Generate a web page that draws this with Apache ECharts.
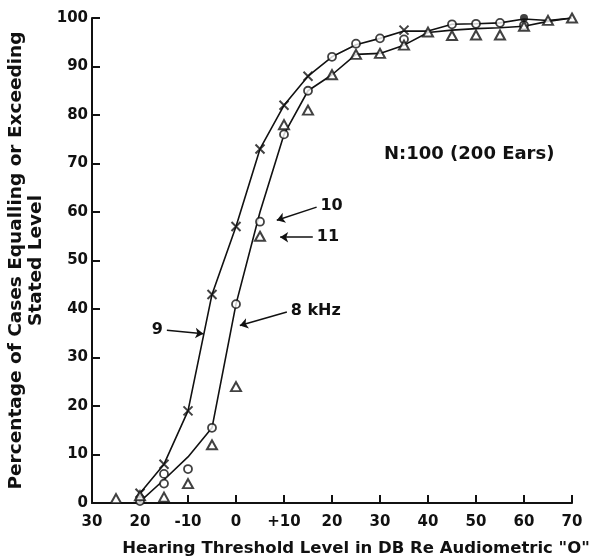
<!DOCTYPE html>
<html><head><meta charset="utf-8">
<script src="https://cdn.jsdelivr.net/npm/echarts@6/dist/echarts.min.js"></script>
<style>html,body{margin:0;padding:0;background:#fff;}#c{width:592px;height:559px;}</style>
</head><body><div id="c"></div>
<script>
const xTicks = [-30,-20,-10,0,10,20,30,40,50,60,70];
const xTickLabels = ['30','20','-10','0','+10','20','30','40','50','60','70'];
const yTicks = [0,10,20,30,40,50,60,70,80,90,100];
const curveA = [[-20,2],[-15,8],[-10,19],[-5,43],[0,57],[5,73],[10,82],[15,88],[20,92],[25,94.5],[30,95.8],[35,97.3],[40,97.3],[45,98.7],[50,98.8],[55,99],[60,99.8],[65,99.5],[70,100]];
const curveB = [[-20,0.3],[-15,4.8],[-10,9.5],[-5,15.5],[0,41],[5,60],[10,76],[15,85],[20,88.3],[25,92.5],[30,92.7],[35,94.4],[40,97],[45,97.5],[50,97.8],[55,98],[60,98.3],[65,99.3],[70,100]];
const xMarks = [[-20,2],[-15,8],[-10,19],[-5,43],[0,57],[5,73],[10,82],[15,88],[35,97.5]];
const circles = [[-20,0.4],[-15,4],[-15,6],[-10,7],[-5,15.5],[0,41],[5,58],[10,76],[15,85],[20,92],[25,94.7],[30,95.8],[35,95.6],[45,98.7],[50,98.8],[55,99],[60,98.5]];
const triangles = [[-25,0.9],[-20,1.5],[-15,1.2],[-10,4],[-5,12],[0,24],[5,55],[10,78],[15,81],[20,88.3],[25,92.5],[30,92.7],[35,94.4],[40,97.1],[45,96.4],[50,96.5],[55,96.5],[60,98.3],[65,99.5],[70,100]];
const filledCircles = [[60,100]];
const arrows = [
  {text:'10', from:[16.8,61], to:[8.5,58.3]},
  {text:'11', from:[16,54.8], to:[9.2,54.8]},
  {text:'8 kHz', from:[10.6,39.4], to:[0.8,36.6]},
  {text:'9', from:[-14.4,35.6], to:[-6.8,34.9]}
];
const FONT = 'DejaVu Sans';
const chart = echarts.init(document.getElementById('c'));
const lbl = {fontFamily: FONT, fontWeight: 'bold', fontSize: 15, color: '#111'};
chart.setOption({
  animation: false,
  backgroundColor: '#fff',
  grid: {left: 92, right: 20, top: 18, bottom: 56, containLabel: false, outerBoundsMode: 'none'},
  xAxis: {
    type: 'value', min: -30, max: 70, interval: 10,
    axisLine: {onZero: false, lineStyle: {color: '#111', width: 2}},
    axisTick: {inside: true, length: 8, lineStyle: {color: '#111', width: 2}},
    splitLine: {show: false},
    axisLabel: Object.assign({}, lbl, {margin: 12, formatter: v => xTickLabels[xTicks.indexOf(v)] ?? ''}),
    name: 'Hearing Threshold Level in DB Re Audiometric "O"',
    nameLocation: 'middle', nameGap: 37,
    nameTextStyle: {fontFamily: FONT, fontWeight: 'bold', fontSize: 16.5, color: '#111', padding: [0,0,0,48]}
  },
  yAxis: {
    type: 'value', min: 0, max: 100, interval: 10,
    axisLine: {show: true, onZero: false, lineStyle: {color: '#111', width: 2}},
    axisTick: {show: true, inside: true, length: 8, lineStyle: {color: '#111', width: 2}},
    splitLine: {show: false},
    axisLabel: Object.assign({}, lbl, {margin: 4, formatter: v => yTicks.includes(v) ? String(v) : ''}),
    name: 'Percentage of Cases Equalling or Exceeding\nStated Level',
    nameLocation: 'middle', nameGap: 45, nameRotate: 90,
    nameTextStyle: {fontFamily: FONT, fontWeight: 'bold', fontSize: 18.5, color: '#111', lineHeight: 20}
  },
  series: [
    {type: 'line', data: curveA, smooth: false, symbol: 'none', lineStyle: {color: '#111', width: 1.6}, z: 2,
     markLine: {silent: true, symbol: ['none', 'arrow'], symbolSize: 8,
       lineStyle: {color: '#111', width: 1.5, type: 'solid'},
       label: {show: true, position: 'start', distance: 4, fontFamily: FONT, fontWeight: 'bold', fontSize: 16, color: '#111'},
       data: arrows.map(a => [{coord: a.from, label: {formatter: a.text}}, {coord: a.to}])}},
    {type: 'line', data: curveB, smooth: false, symbol: 'none', lineStyle: {color: '#111', width: 1.6}, z: 2},
    {type: 'scatter', data: xMarks, symbol: 'path://M0,0L10,10M10,0L0,10', symbolSize: 9,
     itemStyle: {color: 'none', borderColor: '#111', borderWidth: 2}, z: 3},
    {type: 'scatter', data: circles, symbol: 'circle', symbolSize: 8,
     itemStyle: {color: '#fff', borderColor: '#111', borderWidth: 1.8}, z: 4},
    {type: 'scatter', data: triangles, symbol: 'triangle', symbolSize: [10, 9],
     itemStyle: {color: '#fff', borderColor: '#111', borderWidth: 2}, z: 5},
    {type: 'scatter', data: filledCircles, symbol: 'circle', symbolSize: 8,
     itemStyle: {color: '#111'}, z: 6}
  ],
  graphic: [{type: 'text', left: 384, top: 145,
    style: {text: 'N:100 (200 Ears)', fontFamily: FONT, fontWeight: 'bold', fontSize: 18, fill: '#111'}}]
});
</script></body></html>
